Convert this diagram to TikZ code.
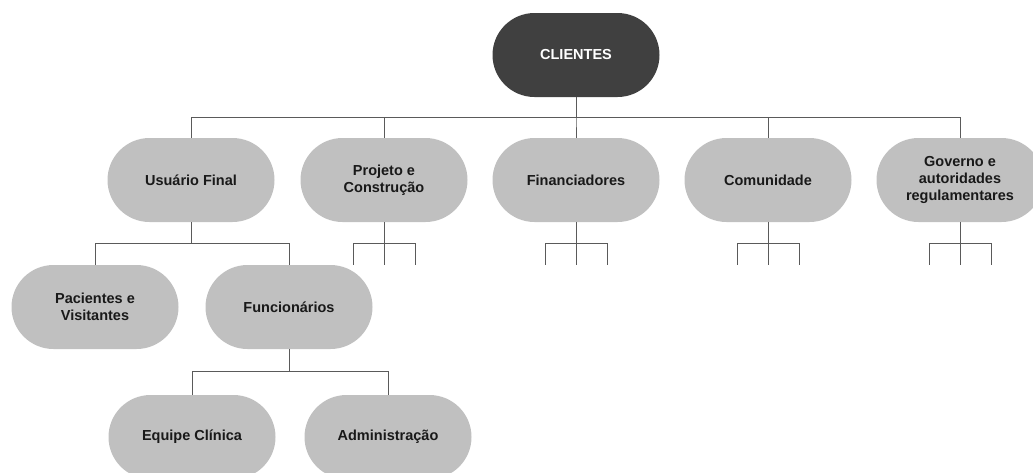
\documentclass[tikz,border=0pt]{standalone}
\usepackage{fontspec}
\setmainfont{Liberation Sans}
\usetikzlibrary{shapes.misc}
\definecolor{topfill}{HTML}{404040}
\definecolor{boxfill}{HTML}{C0C0C0}
\definecolor{wire}{HTML}{5A5A5A}
\tikzset{
  pill/.style={rounded rectangle, minimum width=167pt, minimum height=84pt,
    fill=boxfill, draw=none, text=black!90, align=center,
    font=\bfseries\fontsize{14.5}{17}\selectfont, inner sep=0pt},
  toppill/.style={pill, fill=topfill, text=white},
  wireline/.style={draw=wire, line width=1pt},
}
\begin{document}
\begin{tikzpicture}[x=1pt,y=-1pt]
\useasboundingbox (0,0) rectangle (1033,472);
\begin{scope}
\clip (0,0) rectangle (1033,472);
% root
\node[toppill] (root) at (576,55) {CLIENTES};
% first level
\node[pill] (usu) at (191,180) {Usuário Final};
\node[pill] (proj) at (384,180) {Projeto e\\Construção};
\node[pill] (fin) at (576,180) {Financiadores};
\node[pill] (com) at (768,180) {Comunidade};
\node[pill] (gov) at (960,180) {Governo e\\autoridades\\regulamentares};
% second level
\node[pill] (pac) at (95,307) {Pacientes e\\Visitantes};
\node[pill] (func) at (289,307) {Funcionários};
% third level
\node[pill] (clin) at (192,437) {Equipe Clínica};
\node[pill] (adm) at (388,437) {Administração};
% root connectors
\foreach \c in {usu,proj,fin,com,gov}
  \draw[wireline] (root.south) -- ++(0,20) -| (\c.north);
% usuário final connectors
\foreach \c in {pac,func}
  \draw[wireline] (usu.south) -- ++(0,21) -| (\c.north);
% funcionários connectors
\foreach \c in {clin,adm}
  \draw[wireline] (func.south) -- ++(0,22) -| (\c.north);
% open branches below the other first-level nodes
\foreach \p in {proj,fin,com,gov}{
  \coordinate (\p-l) at ([xshift=-31pt,yshift=-43pt]\p.south);
  \coordinate (\p-m) at ([yshift=-43pt]\p.south);
  \coordinate (\p-r) at ([xshift=31pt,yshift=-43pt]\p.south);
  \draw[wireline] (\p.south) -- (\p-m);
  \draw[wireline] (\p.south) -- ++(0,21) -| (\p-l);
  \draw[wireline] (\p.south) -- ++(0,21) -| (\p-r);
}
\end{scope}
\end{tikzpicture}
\end{document}
